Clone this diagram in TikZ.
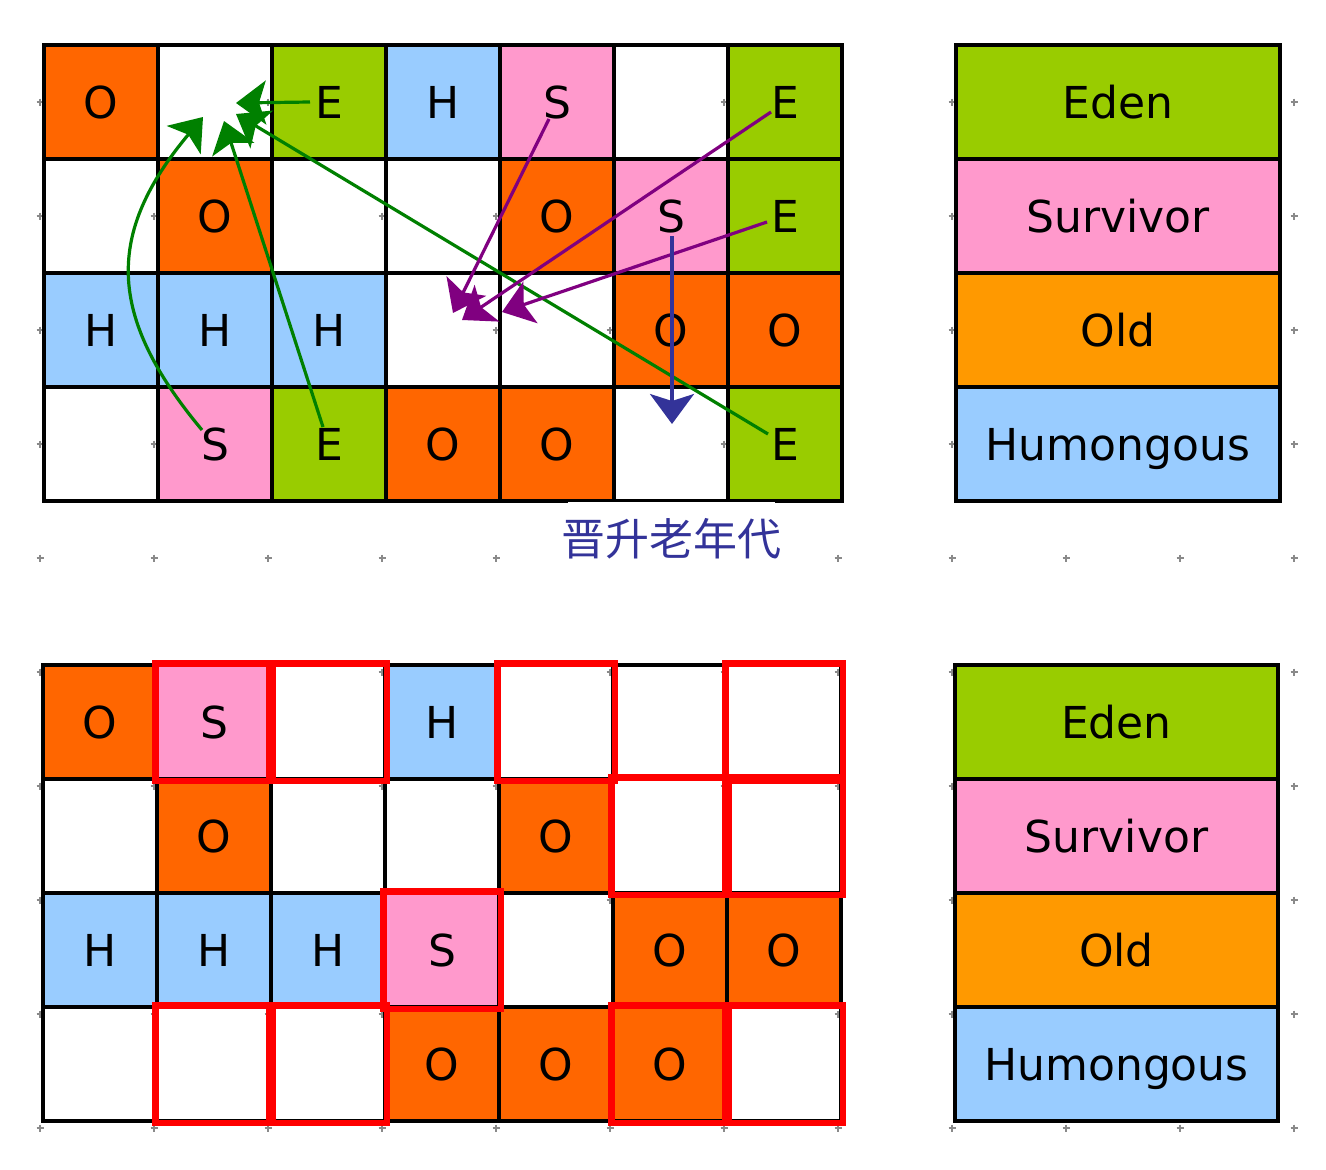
\documentclass[tikz,border=0pt]{standalone}
\usepackage{fontspec}
\setmainfont{DejaVu Sans}
\newfontfamily\cjk{Noto Sans CJK SC}
\usetikzlibrary{arrows.meta}
\definecolor{cO}{HTML}{FF6600}
\definecolor{cE}{HTML}{99CC00}
\definecolor{cH}{HTML}{99CCFF}
\definecolor{cS}{HTML}{FF99CC}
\definecolor{cOld}{HTML}{FF9900}
\definecolor{cG}{HTML}{008000}
\definecolor{cP}{HTML}{800080}
\definecolor{cB}{HTML}{333399}
\definecolor{cDot}{HTML}{8A8A8A}
\begin{document}
\begin{tikzpicture}[x=1pt,y=-1pt,
  cell/.style={draw=black, line width=3.5pt, minimum width=114pt, minimum height=114pt,
    inner sep=0pt, font=\fontsize{44}{53}\selectfont, text height=32pt, text depth=0pt},
  kO/.style={cell, fill=cO},
  kE/.style={cell, fill=cE},
  kH/.style={cell, fill=cH},
  kS/.style={cell, fill=cS},
  kW/.style={cell},
  legrow/.style={cell, minimum height=114pt},
  redbox/.style={draw=red, line width=6.5pt},
  arr/.style={line width=3.2pt, -{Stealth[length=30pt,width=44pt,inset=7pt]}},
  garr/.style={arr, draw=cG},
  parr/.style={arr, draw=cP},
  barr/.style={arr, draw=cB},
  dotmark/.style={draw=cDot, line width=1.2pt},
  promo/.style={text=cB, inner sep=0pt,
    font=\cjk\fontsize{44}{53}\selectfont, text height=36pt, text depth=3pt}
]
\useasboundingbox (0,0) rectangle (1326,1170);
\fill[white] (0,0) rectangle (1326,1170);

% background grid marks
\foreach \i in {0,...,11}{
  \foreach \j in {0,...,9}{
    \draw[dotmark] ({40+114*\i-3.5},{102+114*\j}) -- ({40+114*\i+3.5},{102+114*\j})
                   ({40+114*\i},{102+114*\j-3.5}) -- ({40+114*\i},{102+114*\j+3.5});
  }
}

% ---------------- top grid ----------------
\node[kO] (t-0-0) at (101,102) {O};
\node[kW] (t-0-1) at (215,102) {};
\node[kE] (t-0-2) at (329,102) {E};
\node[kH] (t-0-3) at (443,102) {H};
\node[kS] (t-0-4) at (557,102) {S};
\node[kW] (t-0-5) at (671,102) {};
\node[kE] (t-0-6) at (785,102) {E};

\node[kW] (t-1-0) at (101,216) {};
\node[kO] (t-1-1) at (215,216) {O};
\node[kW] (t-1-2) at (329,216) {};
\node[kW] (t-1-3) at (443,216) {};
\node[kO] (t-1-4) at (557,216) {O};
\node[kS] (t-1-5) at (671,216) {S};
\node[kE] (t-1-6) at (785,216) {E};

\node[kH] (t-2-0) at (101,330) {H};
\node[kH] (t-2-1) at (215,330) {H};
\node[kH] (t-2-2) at (329,330) {H};
\node[kW] (t-2-3) at (443,330) {};
\node[kW] (t-2-4) at (557,330) {};
\node[kO] (t-2-5) at (671,330) {O};
\node[kO] (t-2-6) at (785,330) {O};

\node[kW] (t-3-0) at (101,444) {};
\node[kS] (t-3-1) at (215,444) {S};
\node[kE] (t-3-2) at (329,444) {E};
\node[kO] (t-3-3) at (443,444) {O};
\node[kO] (t-3-4) at (557,444) {O};
\node[kW] (t-3-5) at (671,444) {};
\node[kE] (t-3-6) at (785,444) {E};

% top legend
\node[legrow, fill=cE, minimum width=324pt] (tl-0) at (1118,102) {Eden};
\node[legrow, fill=cS, minimum width=324pt] (tl-1) at (1118,216) {Survivor};
\node[legrow, fill=cOld, minimum width=324pt] (tl-2) at (1118,330) {Old};
\node[legrow, fill=cH, minimum width=324pt] (tl-3) at (1118,444) {Humongous};

% ---------------- bottom grid ----------------
\node[kO] (b-0-0) at (100,722) {O};
\node[kS] (b-0-1) at (214,722) {S};
\node[kW] (b-0-2) at (328,722) {};
\node[kH] (b-0-3) at (442,722) {H};
\node[kW] (b-0-4) at (556,722) {};
\node[kW] (b-0-5) at (670,722) {};
\node[kW] (b-0-6) at (784,722) {};

\node[kW] (b-1-0) at (100,836) {};
\node[kO] (b-1-1) at (214,836) {O};
\node[kW] (b-1-2) at (328,836) {};
\node[kW] (b-1-3) at (442,836) {};
\node[kO] (b-1-4) at (556,836) {O};
\node[kW] (b-1-5) at (670,836) {};
\node[kW] (b-1-6) at (784,836) {};

\node[kH] (b-2-0) at (100,950) {H};
\node[kH] (b-2-1) at (214,950) {H};
\node[kH] (b-2-2) at (328,950) {H};
\node[kS] (b-2-3) at (442,950) {S};
\node[kW] (b-2-4) at (556,950) {};
\node[kO] (b-2-5) at (670,950) {O};
\node[kO] (b-2-6) at (784,950) {O};

\node[kW] (b-3-0) at (100,1064) {};
\node[kW] (b-3-1) at (214,1064) {};
\node[kW] (b-3-2) at (328,1064) {};
\node[kO] (b-3-3) at (442,1064) {O};
\node[kO] (b-3-4) at (556,1064) {O};
\node[kO] (b-3-5) at (670,1064) {O};
\node[kW] (b-3-6) at (784,1064) {};

% red boxes (freed regions)
\foreach \n in {b-0-1,b-0-2,b-0-4,b-0-6,b-1-5,b-1-6,b-2-3,b-3-1,b-3-2,b-3-5,b-3-6}{
  \draw[redbox] (\n.south west) rectangle (\n.north east);
}

% bottom legend
\node[legrow, fill=cE, minimum width=323pt] (bl-0) at (1116.5,722) {Eden};
\node[legrow, fill=cS, minimum width=323pt] (bl-1) at (1116.5,836) {Survivor};
\node[legrow, fill=cOld, minimum width=323pt] (bl-2) at (1116.5,950) {Old};
\node[legrow, fill=cH, minimum width=323pt] (bl-3) at (1116.5,1064) {Humongous};

% ---------------- arrows ----------------
\coordinate (g1s) at (310,102);  \coordinate (g1e) at (236,103);
\coordinate (g2s) at (202,430);  \coordinate (g2e) at (203,117);
\coordinate (g2a) at (106,315);  \coordinate (g2b) at (106,233);
\coordinate (g3s) at (323,427);  \coordinate (g3e) at (224,121);
\coordinate (g4s) at (768,434);  \coordinate (g4e) at (236,114);
\coordinate (p1s) at (549,119);  \coordinate (p1e) at (453,313);
\coordinate (p2s) at (771,112);  \coordinate (p2e) at (462,320);
\coordinate (p3s) at (767,222);  \coordinate (p3e) at (502,312);
\coordinate (bs)  at (672,236);  \coordinate (be)  at (672,424);

\draw[garr] (g4s) -- (g4e);
\draw[parr] (p1s) -- (p1e);
\draw[parr] (p2s) -- (p2e);
\draw[parr] (p3s) -- (p3e);
\draw[barr] (bs) -- (be);
\draw[garr] (g1s) -- (g1e);
\draw[garr] (g2s) .. controls (g2a) and (g2b) .. (g2e);
\draw[garr] (g3s) -- (g3e);

% label with its white backing
\fill[white] (568,501.5) rectangle (775,578);
\node[promo] (lbl) at (671.5,539) {晋升老年代};
\end{tikzpicture}
\end{document}
